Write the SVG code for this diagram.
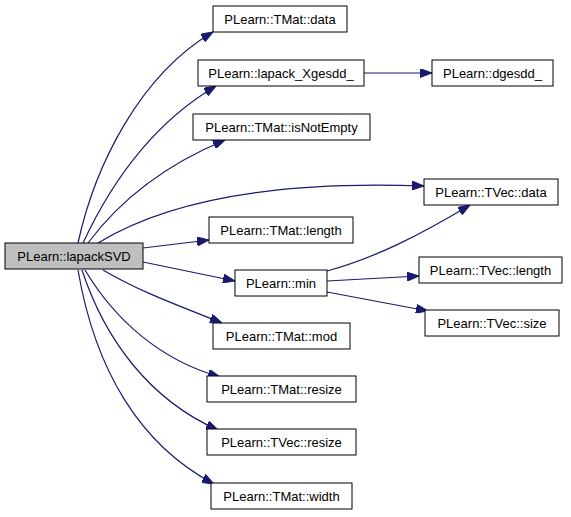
<svg xmlns="http://www.w3.org/2000/svg" width="571" height="517" viewBox="0 0 571 517">
<defs>
<style>
.n rect{fill:#ffffff;stroke:#000000;stroke-width:1}
.n text{font-family:"Liberation Sans",Arial,sans-serif;font-size:13px;text-anchor:middle;fill:#000000}
.e path{fill:none;stroke:#191970;stroke-width:1.2;marker-end:url(#ah)}
</style>
<marker id="ah" markerUnits="userSpaceOnUse" markerWidth="12" markerHeight="9" refX="12" refY="4.5" orient="auto">
<polygon points="0,0 12,4.5 0,9" fill="#191970" stroke="#191970"/>
</marker>
</defs>
<rect width="571" height="517" fill="#ffffff"/>
<g id="edges" class="e">
<path d="M78,243 C95,165 140,75 213,32"/>
<path d="M83,243 C110,185 150,125 216,86"/>
<path d="M88,243 C120,200 165,165 225,140"/>
<path d="M98,243 C160,205 260,180 424,186"/>
<path d="M143,248 L209,240"/>
<path d="M143,262 L235,281"/>
<path d="M103,270 C140,292 180,306 222,323"/>
<path d="M85,270 C115,320 160,360 220,377"/>
<path d="M82,270 C105,340 150,400 218,430"/>
<path d="M78,270 C95,370 140,445 214,484"/>
<path d="M364,73 L432,73"/>
<path d="M327,271 C375,258 420,235 470,205"/>
<path d="M327,281 L419,276"/>
<path d="M327,292 L428,311"/>
</g>
<g id="node_lapackSVD" class="n"><rect x="5" y="243" width="138" height="26" style="fill:#bfbfbf"/><text x="74" y="260.5">PLearn::lapackSVD</text></g>
<g id="node_TMat_data" class="n"><rect x="213" y="6" width="134" height="26"/><text x="280" y="23.5">PLearn::TMat::data</text></g>
<g id="node_lapack_Xgesdd" class="n"><rect x="198" y="60" width="166" height="26"/><text x="281" y="77.5">PLearn::lapack_Xgesdd_</text></g>
<g id="node_dgesdd" class="n"><rect x="432" y="60" width="121" height="26"/><text x="492.5" y="77.5">PLearn::dgesdd_</text></g>
<g id="node_TMat_isNotEmpty" class="n"><rect x="193" y="114" width="177" height="26"/><text x="281.5" y="131.5">PLearn::TMat::isNotEmpty</text></g>
<g id="node_TVec_data" class="n"><rect x="424" y="179" width="134" height="26"/><text x="491" y="196.5">PLearn::TVec::data</text></g>
<g id="node_TMat_length" class="n"><rect x="209" y="217" width="144" height="26"/><text x="281" y="234.5">PLearn::TMat::length</text></g>
<g id="node_min" class="n"><rect x="235" y="270" width="92" height="26"/><text x="281" y="287.5">PLearn::min</text></g>
<g id="node_TVec_length" class="n"><rect x="419" y="257" width="143" height="26"/><text x="490.5" y="274.5">PLearn::TVec::length</text></g>
<g id="node_TVec_size" class="n"><rect x="425" y="310" width="134" height="26"/><text x="492" y="327.5">PLearn::TVec::size</text></g>
<g id="node_TMat_mod" class="n"><rect x="213" y="323" width="137" height="26"/><text x="281.5" y="340.5">PLearn::TMat::mod</text></g>
<g id="node_TMat_resize" class="n"><rect x="207" y="376" width="149" height="26"/><text x="281.5" y="393.5">PLearn::TMat::resize</text></g>
<g id="node_TVec_resize" class="n"><rect x="207" y="429" width="149" height="26"/><text x="281.5" y="446.5">PLearn::TVec::resize</text></g>
<g id="node_TMat_width" class="n"><rect x="211" y="483" width="141" height="26"/><text x="281.5" y="500.5">PLearn::TMat::width</text></g>
</svg>
